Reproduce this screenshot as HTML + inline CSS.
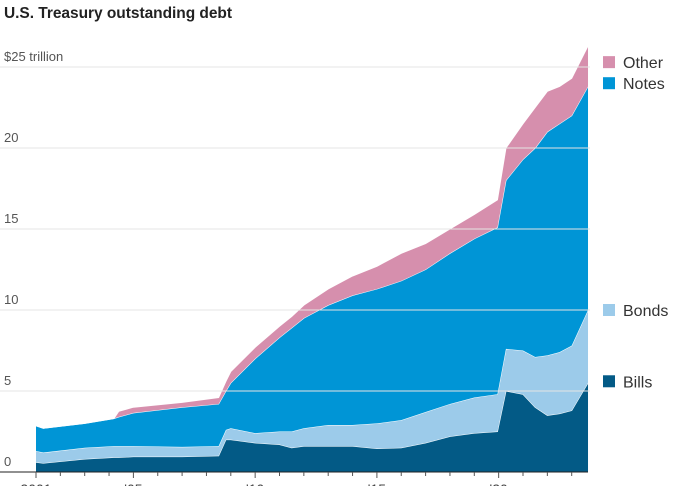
<!DOCTYPE html>
<html><head><meta charset="utf-8"><style>
body{margin:0;background:#fff;width:674px;height:486px;overflow:hidden}
svg{display:block;font-family:"Liberation Sans Narrow","Liberation Sans",sans-serif}
</style></head><body>
<svg id="chart" width="674" height="486">
<text x="4" y="18" font-size="15.5" font-weight="bold" fill="#222" textLength="228">U.S. Treasury outstanding debt</text>
<g id="areas"></g><g id="grid"></g><g id="axes"></g><g id="legend"></g>
</svg>
<script>
const dates=[2001,2001.3,2003,2004.2,2004.4,2005,2007,2008.5,2008.8,2009,2010,2011,2011.5,2012,2013,2014,2015,2016,2017,2018,2019,2019.95,2020.3,2021,2021.5,2022,2022.5,2023,2023.67];
const bills=[.6,.55,.8,.9,.9,.95,.95,1.0,2.0,2.0,1.8,1.7,1.5,1.6,1.6,1.6,1.45,1.5,1.8,2.2,2.4,2.5,5.0,4.8,4.0,3.5,3.6,3.8,5.5];
const bonds=[.7,.65,.7,.7,.7,.65,.6,.6,.6,.7,.6,.8,1.0,1.1,1.3,1.3,1.55,1.7,1.9,2.0,2.2,2.3,2.6,2.7,3.1,3.7,3.8,4.0,4.5];
const notes=[1.55,1.5,1.5,1.7,1.8,2.05,2.45,2.6,2.4,2.8,4.6,5.8,6.4,6.8,7.4,8.0,8.3,8.6,8.8,9.3,9.8,10.3,10.4,11.8,12.9,13.8,14.1,14.2,13.8];
const other=[0,0,0,0,.35,.35,.3,.4,.6,.7,.7,.7,.7,.8,1.0,1.2,1.4,1.7,1.6,1.5,1.5,1.7,2.0,2.2,2.5,2.5,2.3,2.3,2.5];
const yTicks=[0,5,10,15,20,25];
const yTickLabels=["0","5","10","15","20","$25 trillion"];
const xTicks=[2001,2005,2010,2015,2020];
const xTickLabels=["2001","'05","'10","'15","'20"];
const legendNames=["Other","Notes","Bonds","Bills"];
const legendVals=[25.3,24,10,5.6];

const NS="http://www.w3.org/2000/svg";
const X=y=>36+(y-2001)*24.35;
const Y=v=>472-16.2*v;
function mk(t,a,p){const e=document.createElementNS(NS,t);for(const k in a)e.setAttribute(k,a[k]);p.appendChild(e);return e;}
const series=[bills,bonds,notes,other];
const names=["bills","bonds","notes","other"];
const colors=["#035a86","#9ccbea","#0095d6","#d68fad"];
const areas=document.getElementById('areas');
let base=dates.map(()=>0);
series.forEach((s,i)=>{
  const top=s.map((v,j)=>base[j]+v);
  let d="M"+dates.map((t,j)=>X(t)+","+Y(top[j])).join("L");
  for(let j=dates.length-1;j>=0;j--)d+="L"+X(dates[j])+","+Y(base[j]);
  const p=mk('path',{d:d+"Z",fill:colors[i]},areas);
  
  
  const l=mk('path',{d:"M"+dates.map((t,j)=>X(t)+","+Y(top[j])).join("L"),fill:"none",stroke:"#fff","stroke-width":1},areas);
  
  
  base=top;
});
const grid=document.getElementById('grid'),axes=document.getElementById('axes');
yTicks.forEach((v,i)=>{
  if(v>0){const g=mk('line',{x1:0,x2:590,y1:Y(v),y2:Y(v),stroke:"#e4e4e4","stroke-width":1},grid);
  
  }
  const t=mk('text',{x:4,y:Y(v)-6,"font-size":13,fill:"#555"},axes);
  t.textContent=yTickLabels[i];
  
  
});
const ax=mk('line',{x1:0,x2:588,y1:472,y2:472,stroke:"#222","stroke-width":1},axes);


for(let yr=2001;yr<=2023;yr++){
  const major=xTicks.includes(yr);
  const tk=mk('line',{x1:X(yr),x2:X(yr),y1:472,y2:major?478:476,stroke:"#555"},axes);
  
  
}
xTicks.forEach((yr,i)=>{
  const t=mk('text',{x:X(yr),y:494,"font-size":14,fill:"#444","text-anchor":"middle"},axes);
  t.textContent=xTickLabels[i];
  
  
});
const lg=document.getElementById('legend');
const lcol=[colors[3],colors[2],colors[1],colors[0]];
legendNames.forEach((n,i)=>{
  const cy=Y(legendVals[i]);
  const r=mk('rect',{x:603,y:cy-6,width:12,height:12,fill:lcol[i]},lg);
  
  
  const t=mk('text',{x:623,y:cy+6,"font-size":16,fill:"#333"},lg);
  t.textContent=n;
  
  
});
</script>
</body></html>
